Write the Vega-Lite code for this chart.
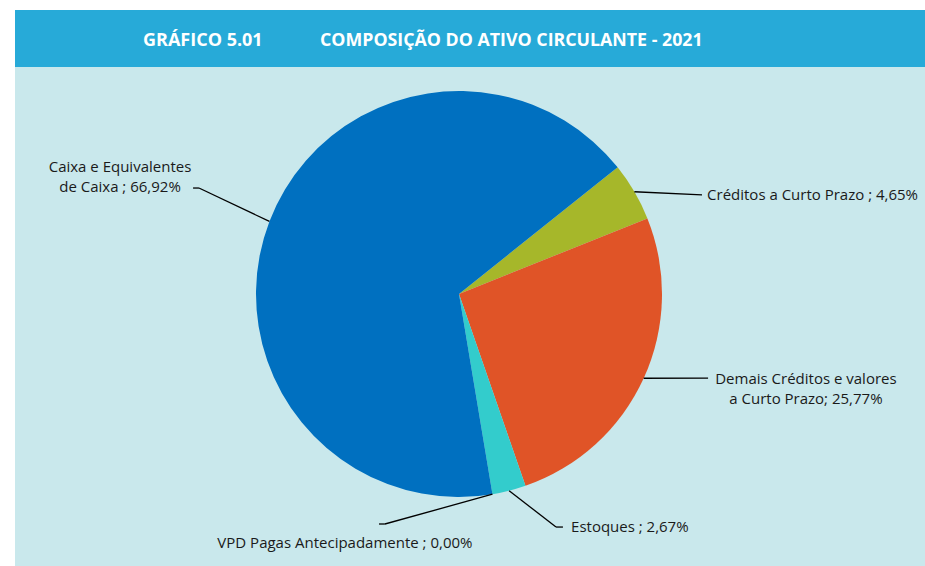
{
  "$schema": "https://vega.github.io/schema/vega-lite/v6.json",
  "background": "white",
  "padding": {"left": 15, "top": 10, "right": 0, "bottom": 0},
  "spacing": 0,
  "config": {"view": {"stroke": null}, "concat": {"spacing": 0}},
  "vconcat": [
    {
      "width": 910,
      "height": 57,
      "view": {"fill": "#27AAD8", "stroke": null},
      "data": {"values": [
        {"parte": "GRÁFICO 5.01", "ordem": 1},
        {"parte": "COMPOSIÇÃO DO ATIVO CIRCULANTE - 2021", "ordem": 2}
      ]},
      "layer": [
        {
          "transform": [{"filter": "datum.ordem == 1"}],
          "mark": {"type": "text", "align": "left", "baseline": "middle", "dx": -327, "dy": 2.5, "font": "Open Sans", "fontWeight": "bold", "fontSize": 18, "color": "white"},
          "encoding": {"text": {"field": "parte"}}
        },
        {
          "transform": [{"filter": "datum.ordem == 2"}],
          "mark": {"type": "text", "align": "left", "baseline": "middle", "dx": -150, "dy": 2.5, "font": "Open Sans", "fontWeight": "bold", "fontSize": 17.8, "color": "white"},
          "encoding": {"text": {"field": "parte"}}
        }
      ]
    },
    {
      "width": 910,
      "height": 499,
      "view": {"fill": "#C9E8EC", "stroke": null},
      "data": {"values": [
        {"categoria": "Créditos a Curto Prazo", "valor": 4.65, "ordem": 1},
        {"categoria": "Demais Créditos e valores\na Curto Prazo", "valor": 25.77, "ordem": 2},
        {"categoria": "Estoques", "valor": 2.67, "ordem": 3},
        {"categoria": "VPD Pagas Antecipadamente", "valor": 0.0, "ordem": 4},
        {"categoria": "Caixa e Equivalentes\nde Caixa", "valor": 66.92, "ordem": 5}
      ]},
      "transform": [
        {"joinaggregate": [{"op": "sum", "field": "valor", "as": "total"}]},
        {"window": [{"op": "sum", "field": "valor", "as": "acum"}], "sort": [{"field": "ordem"}], "frame": [null, 0]},
        {"calculate": "0.897 + 2 * PI * (datum.acum - datum.valor / 2) / datum.total", "as": "meio"},
        {"calculate": "sin(datum.meio)", "as": "x0"},
        {"calculate": "cos(datum.meio)", "as": "y0"},
        {"calculate": "datum.ordem == 1 ? 1.197 : datum.ordem == 2 ? 1.227 : datum.ordem == 3 ? 0.478 : datum.ordem == 4 ? -0.365 : -1.281", "as": "xc"},
        {"calculate": "datum.ordem == 1 ? 0.488 : datum.ordem == 2 ? -0.414 : datum.ordem == 3 ? -1.148 : datum.ordem == 4 ? -1.133 : 0.522", "as": "yc"},
        {"calculate": "datum.ordem == 1 ? 1.197 : datum.ordem == 2 ? 1.227 : datum.ordem == 3 ? 0.512 : datum.ordem == 4 ? -0.394 : -1.310", "as": "xe"},
        {"calculate": "datum.ordem == 1 ? 1.222 : datum.ordem == 2 ? 1.709 : datum.ordem == 3 ? 0.552 : datum.ordem == 4 ? -0.562 : -1.670", "as": "xl"},
        {"calculate": "datum.ordem == 1 ? 0.488 : datum.ordem == 2 ? -0.419 : datum.ordem == 3 ? -1.148 : datum.ordem == 4 ? -1.227 : 0.626", "as": "yl"},
        {"calculate": "datum.categoria + (datum.ordem == 2 ? '; ' : ' ; ') + replace(format(datum.valor, '.2f'), '.', ',') + '%'", "as": "rotulo"}
      ],
      "layer": [
        {
          "mark": {"type": "arc", "outerRadius": 203, "strokeWidth": 0},
          "encoding": {
            "x": {"datum": 0, "type": "quantitative", "scale": {"domain": [-2.1872, 2.2956], "nice": false, "zero": false}, "axis": null},
            "y": {"datum": 0, "type": "quantitative", "scale": {"domain": [-1.3399, 1.1182], "nice": false, "zero": false}, "axis": null},
            "theta": {"field": "valor", "type": "quantitative", "stack": true, "scale": {"range": [0.897, 7.1802]}},
            "order": {"field": "ordem", "type": "quantitative"},
            "color": {
              "field": "categoria", "type": "nominal", "legend": null,
              "scale": {
                "domain": ["Créditos a Curto Prazo", "Demais Créditos e valores\na Curto Prazo", "Estoques", "VPD Pagas Antecipadamente", "Caixa e Equivalentes\nde Caixa"],
                "range": ["#A6B72A", "#E05427", "#33CCCC", "#7F7F7F", "#0070C0"]
              }
            }
          }
        },
        {
          "mark": {"type": "rule", "color": "black", "strokeWidth": 1.3},
          "encoding": {
            "x": {"field": "x0", "type": "quantitative"},
            "y": {"field": "y0", "type": "quantitative"},
            "x2": {"field": "xc"},
            "y2": {"field": "yc"}
          }
        },
        {
          "mark": {"type": "rule", "color": "black", "strokeWidth": 1.3},
          "encoding": {
            "x": {"field": "xc", "type": "quantitative"},
            "y": {"field": "yc", "type": "quantitative"},
            "x2": {"field": "xe"},
            "y2": {"field": "yc"}
          }
        },
        {
          "transform": [{"filter": "datum.ordem == 2 || datum.ordem == 4 || datum.ordem == 5"}],
          "mark": {"type": "text", "align": "center", "baseline": "middle", "lineBreak": "\n", "lineHeight": 20, "font": "Open Sans", "fontSize": 15, "color": "#1A1A1A"},
          "encoding": {
            "x": {"field": "xl", "type": "quantitative"},
            "y": {"field": "yl", "type": "quantitative"},
            "text": {"field": "rotulo"}
          }
        },
        {
          "transform": [{"filter": "datum.ordem == 1 || datum.ordem == 3"}],
          "mark": {"type": "text", "align": "left", "baseline": "middle", "lineBreak": "\n", "lineHeight": 20, "font": "Open Sans", "fontSize": 15, "color": "#1A1A1A"},
          "encoding": {
            "x": {"field": "xl", "type": "quantitative"},
            "y": {"field": "yl", "type": "quantitative"},
            "text": {"field": "rotulo"}
          }
        }
      ]
    }
  ]
}
